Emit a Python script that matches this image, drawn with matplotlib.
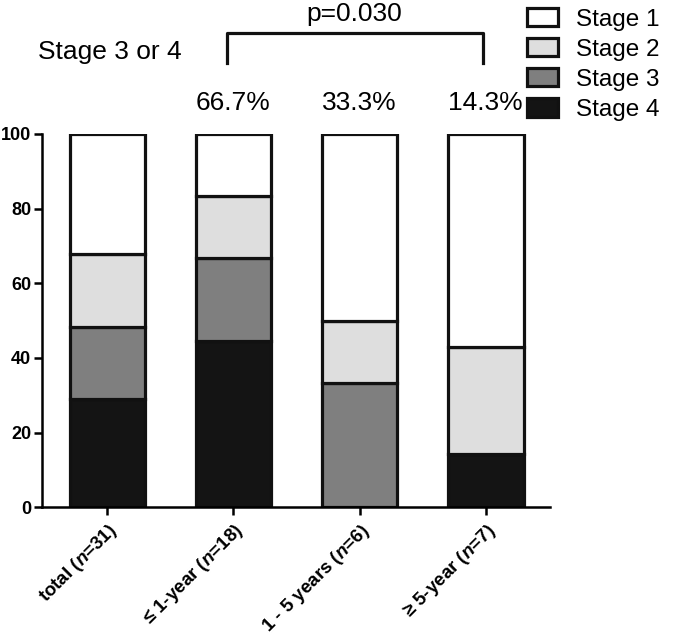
import numpy as np
import matplotlib
matplotlib.use('Agg')
import matplotlib.pyplot as plt
from matplotlib.patches import Patch

plt.rcParams['font.family'] = ['Liberation Sans', 'DejaVu Sans']
plt.rcParams['mathtext.fontset'] = 'custom'
plt.rcParams['mathtext.it'] = 'Liberation Sans:italic:bold'
plt.rcParams['mathtext.rm'] = 'Liberation Sans:bold'

# ── DATA ──
groups = ['total ($n$=31)', '≤ 1-year ($n$=18)', '1 - 5 years ($n$=6)', '≥ 5-year ($n$=7)']
stage4 = [29.0, 44.4, 0.0, 14.3]
stage3 = [19.4, 22.3, 33.3, 0.0]
stage2 = [19.4, 16.6, 16.7, 28.6]
stage1 = [32.2, 16.7, 50.0, 57.1]
stage_labels = ['Stage 1', 'Stage 2', 'Stage 3', 'Stage 4']
stage_colors = ['#ffffff', '#dedede', '#7f7f7f', '#141414']
pct_labels = ['66.7%', '33.3%', '14.3%']
p_text = 'p=0.030'

fig = plt.figure(figsize=(6.85, 6.38), dpi=100)
ax = fig.add_axes([0.061, 0.205, 0.742, 0.585])

x = np.arange(len(groups))
bottom = np.zeros(len(groups))
series = [stage4, stage3, stage2, stage1]
colors = stage_colors[::-1]
for vals, col in zip(series, colors):
    ax.bar(x, vals, bottom=bottom, width=0.6, color=col,
           edgecolor='#111111', linewidth=2.3)
    bottom += np.array(vals)

ax.set_xlim(-0.52, 3.51)
ax.set_ylim(0, 100)
ax.spines['top'].set_visible(False)
ax.spines['right'].set_visible(False)
ax.spines['left'].set_linewidth(1.8)
ax.spines['bottom'].set_linewidth(1.8)
ax.set_yticks([0, 20, 40, 60, 80, 100])
ax.tick_params(axis='both', width=1.8, length=6, labelsize=13)
ax.tick_params(axis='y', pad=1.5)
for lab in ax.get_yticklabels():
    lab.set_fontweight('bold')
ax.set_xticks(x)
ax.set_xticklabels(groups, rotation=45, ha='right', rotation_mode='anchor',
                   fontsize=13.5, fontweight='bold')

# ── ANNOTATIONS ──
for xi, t in zip(x[1:], pct_labels):
    ax.text(xi, 108.3, t, ha='center', va='center', fontsize=19, clip_on=False)
ax.text(0.02, 122, 'Stage 3 or 4', ha='center', va='center', fontsize=19, clip_on=False)
ax.plot([0.95, 0.95, 2.98, 2.98], [119, 127, 127, 119], color='#111111',
        lw=2.3, clip_on=False)
ax.text(1.96, 132.2, p_text, ha='center', va='center', fontsize=19, clip_on=False)

handles = [Patch(facecolor=c, edgecolor='#111111', linewidth=2.3) for c in stage_colors]
fig.legend(handles, stage_labels, loc='upper left', bbox_to_anchor=(0.755, 1.003),
           frameon=False, fontsize=17.5, labelspacing=0.3, handlelength=1.3,
           handleheight=0.8, handletextpad=0.7, borderaxespad=0)

fig.savefig('out.png', dpi=100)
